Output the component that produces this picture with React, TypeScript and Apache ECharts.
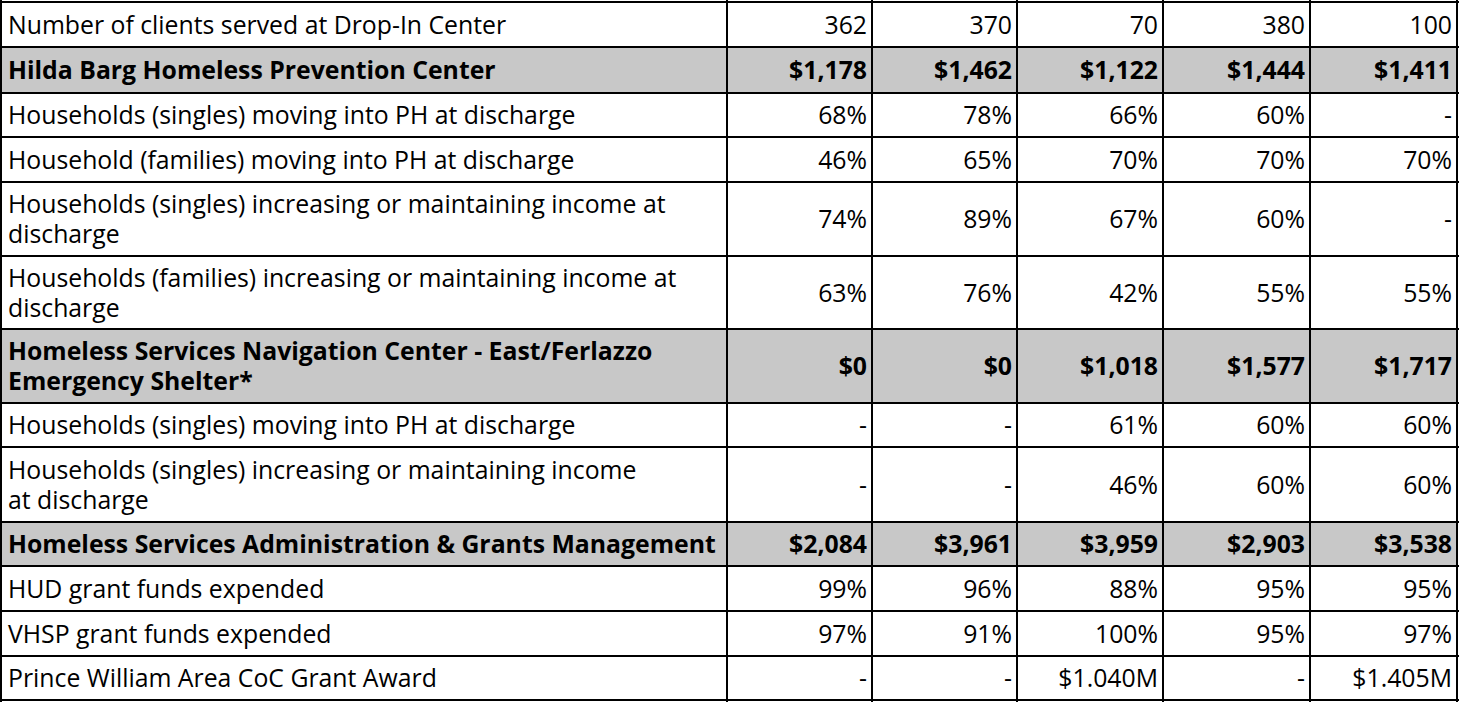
import React, { useEffect, useRef } from "react";
import * as echarts from "echarts";

// ---- Data ----
const rowLabels: string[] = [
  "Number of clients served at Drop-In Center",
  "Hilda Barg Homeless Prevention Center",
  "Households (singles) moving into PH at discharge",
  "Household (families) moving into PH at discharge",
  "Households (singles) increasing or maintaining income at\ndischarge",
  "Households (families) increasing or maintaining income at\ndischarge",
  "Homeless Services Navigation Center - East/Ferlazzo\nEmergency Shelter*",
  "Households (singles) moving into PH at discharge",
  "Households (singles) increasing or maintaining income\nat discharge",
  "Homeless Services Administration & Grants Management",
  "HUD grant funds expended",
  "VHSP grant funds expended",
  "Prince William Area CoC Grant Award",
];
const headerRows: boolean[] = [false, true, false, false, false, false, true, false, false, true, false, false, false];

const col1: string[] = ["362", "$1,178", "68%", "46%", "74%", "63%", "$0", "-", "-", "$2,084", "99%", "97%", "-"];
const col2: string[] = ["370", "$1,462", "78%", "65%", "89%", "76%", "$0", "-", "-", "$3,961", "96%", "91%", "-"];
const col3: string[] = ["70", "$1,122", "66%", "70%", "67%", "42%", "$1,018", "61%", "46%", "$3,959", "88%", "100%", "$1.040M"];
const col4: string[] = ["380", "$1,444", "60%", "70%", "60%", "55%", "$1,577", "60%", "60%", "$2,903", "95%", "95%", "-"];
const col5: string[] = ["100", "$1,411", "-", "70%", "-", "55%", "$1,717", "60%", "60%", "$3,538", "95%", "97%", "$1.405M"];
const valueColumns: string[][] = [col1, col2, col3, col4, col5];

// ---- Layout ----
const colEdges = [1, 727, 872, 1017, 1163, 1310, 1457];
const rowEdges = [2, 47, 93, 137, 182, 256, 329, 403, 447, 522, 566, 611, 656, 700];
const FONT_FAMILY = '"Open Sans", "Noto Sans", sans-serif';
const FONT_SIZE = 24.8;
const LINE_H = 30;
const HEADER_FILL = "#c8c8c8";
const BORDER = "#000000";

function textEl(text: string, x: number, y: number, weight: string, align: string) {
  return {
    type: "text",
    style: {
      text,
      x,
      y,
      fill: "#000000",
      fontFamily: FONT_FAMILY,
      fontSize: FONT_SIZE,
      fontWeight: weight,
      align,
      verticalAlign: "middle",
    },
    silent: true,
  };
}

function buildGraphic() {
  const els: any[] = [];
  els.push({ type: "rect", shape: { x: 0, y: 0, width: 1459, height: 702 }, style: { fill: "#ffffff" }, silent: true });
  rowLabels.forEach((_, i) => {
    els.push({
      type: "rect",
      shape: { x: colEdges[0], y: rowEdges[i], width: colEdges[colEdges.length - 1] - colEdges[0], height: rowEdges[i + 1] - rowEdges[i] },
      style: { fill: headerRows[i] ? HEADER_FILL : "#ffffff" },
      silent: true,
    });
  });
  rowLabels.forEach((label, i) => {
    const cy = (rowEdges[i] + rowEdges[i + 1]) / 2 - 1;
    const weight = headerRows[i] ? "bold" : "normal";
    const lines = label.split("\n");
    const start = cy - ((lines.length - 1) * LINE_H) / 2;
    lines.forEach((ln, k) => {
      els.push(textEl(ln, colEdges[0] + 7, start + k * LINE_H, weight, "left"));
    });
    valueColumns.forEach((col, c) => {
      els.push(textEl(col[i], colEdges[c + 2] - 5, cy, weight, "right"));
    });
  });
  rowEdges.forEach((y) => {
    els.push({ type: "line", shape: { x1: 0, y1: y, x2: 1459, y2: y }, style: { stroke: BORDER, lineWidth: 2 }, silent: true });
  });
  colEdges.forEach((x) => {
    els.push({ type: "line", shape: { x1: x, y1: 0, x2: x, y2: 702 }, style: { stroke: BORDER, lineWidth: 2 }, silent: true });
  });
  return els;
}

export default function App() {
  const ref = useRef<HTMLDivElement>(null);
  useEffect(() => {
    if (!ref.current) return;
    const chart = echarts.init(ref.current, undefined, { renderer: "svg" });
    chart.setOption({
      animation: false,
      backgroundColor: "#ffffff",
      graphic: { elements: buildGraphic() },
    });
    return () => chart.dispose();
  }, []);
  return (
    <div
      ref={ref}
      style={{ position: "fixed", left: 0, top: 0, width: 1459, height: 702 }}
    />
  );
}
